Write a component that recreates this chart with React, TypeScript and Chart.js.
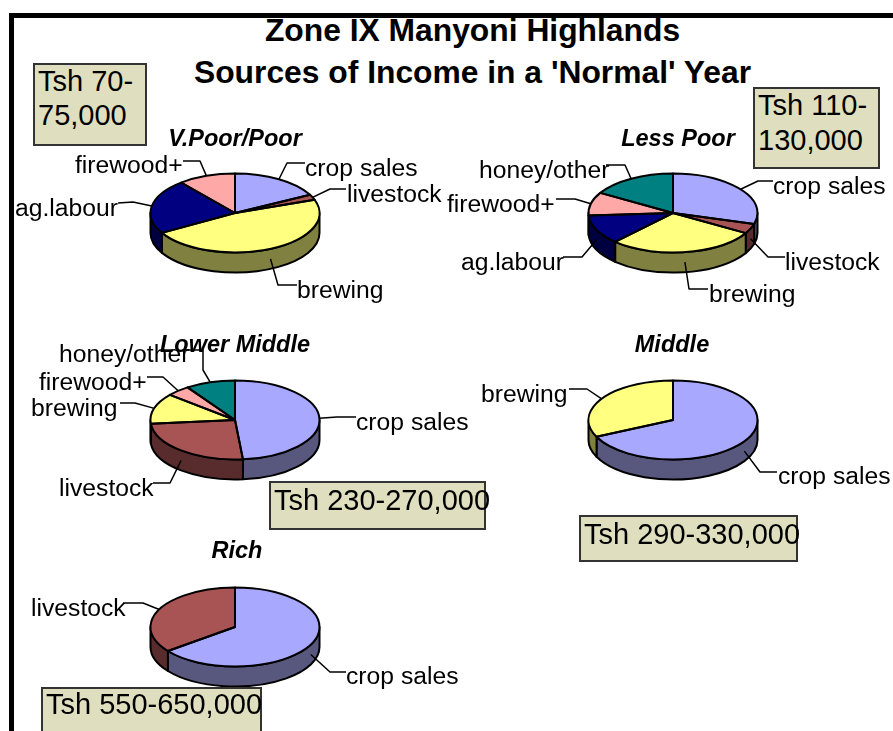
import React, { useEffect, useRef } from "react";
import { Chart, registerables } from "chart.js";

Chart.register(...registerables);

const W = 893;
const H = 731;
const FONT = '"Liberation Sans", Arial, sans-serif';

// ---- data (percent share of income) ----
const vPoorCategories = ["crop sales", "livestock", "brewing", "ag.labour", "firewood+"];
const vPoorValues = [17.4, 2.2, 47, 22.4, 11];
const lessPoorCategories = ["crop sales", "livestock", "brewing", "ag.labour", "firewood+", "honey/other"];
const lessPoorValues = [29.5, 4, 28.5, 12, 9.5, 16.5];
const lowerMiddleCategories = ["crop sales", "livestock", "brewing", "firewood+", "honey/other"];
const lowerMiddleValues = [48.5, 25, 12.5, 4.5, 9.5];
const middleCategories = ["crop sales", "brewing"];
const middleValues = [68, 32];
const richCategories = ["crop sales", "livestock"];
const richValues = [64.6, 35.4];

const mainTitle = ["Zone IX Manyoni Highlands", "Sources of Income in a 'Normal' Year"];

// ---- styles ----
const topColors: Record<string, string> = {
  "crop sales": "#A8A8FF",
  livestock: "#A85454",
  brewing: "#FFFF80",
  "ag.labour": "#000080",
  "firewood+": "#FFA8A8",
  "honey/other": "#008080",
};
const sideColors: Record<string, string> = {
  "crop sales": "#58587F",
  livestock: "#582C2C",
  brewing: "#808040",
  "ag.labour": "#000040",
  "firewood+": "#805454",
  "honey/other": "#004040",
};

// ---- layout ----
type LabelLayout = { x: number; y: number; via: [number, number][] };
type PieConfig = {
  title: string;
  titleX: number;
  titleY: number;
  cx: number;
  cy: number;
  categories: string[];
  values: number[];
  labels: Record<string, LabelLayout>;
};

const pies: PieConfig[] = [
  {
    title: "V.Poor/Poor", titleX: 235, titleY: 146, cx: 235, cy: 213,
    categories: vPoorCategories, values: vPoorValues,
    labels: {
      "crop sales": { x: 305, y: 176, via: [[287, 163], [305, 163]] },
      livestock: { x: 347, y: 202, via: [[330, 189], [346, 189]] },
      brewing: { x: 297, y: 298, via: [[278, 285], [297, 285]] },
      "ag.labour": { x: 15, y: 216, via: [[133, 202], [118, 203]] },
      "firewood+": { x: 75, y: 173, via: [[200, 161], [183, 161]] },
    },
  },
  {
    title: "Less Poor", titleX: 678, titleY: 146, cx: 673, cy: 213,
    categories: lessPoorCategories, values: lessPoorValues,
    labels: {
      "crop sales": { x: 773, y: 194, via: [[758, 181], [773, 181]] },
      livestock: { x: 785, y: 270, via: [[768, 257], [785, 257]] },
      brewing: { x: 709, y: 302, via: [[689, 289], [708, 289]] },
      "ag.labour": { x: 461, y: 270, via: [[582, 257], [563, 257]] },
      "firewood+": { x: 447, y: 212, via: [[575, 199], [556, 199]] },
      "honey/other": { x: 479, y: 178, via: [[625, 165], [606, 165]] },
    },
  },
  {
    title: "Lower Middle", titleX: 235, titleY: 352, cx: 235, cy: 420,
    categories: lowerMiddleCategories, values: lowerMiddleValues,
    labels: {
      "crop sales": { x: 356, y: 430, via: [[337, 417], [356, 417]] },
      livestock: { x: 59, y: 496, via: [[170, 483], [153, 483]] },
      brewing: { x: 31, y: 416, via: [[135, 403], [120, 403]] },
      "firewood+": { x: 39, y: 390, via: [[163, 377], [147, 377]] },
      "honey/other": { x: 59, y: 362, via: [[203, 370], [203, 350], [185, 350]] },
    },
  },
  {
    title: "Middle", titleX: 672, titleY: 352, cx: 673, cy: 420,
    categories: middleCategories, values: middleValues,
    labels: {
      "crop sales": { x: 778, y: 484, via: [[760, 472], [777, 472]] },
      brewing: { x: 481, y: 402, via: [[587, 389], [569, 389]] },
    },
  },
  {
    title: "Rich", titleX: 237, titleY: 558, cx: 235, cy: 627,
    categories: richCategories, values: richValues,
    labels: {
      "crop sales": { x: 346, y: 684, via: [[330, 672], [346, 672]] },
      livestock: { x: 31, y: 616, via: [[143, 603], [123, 603]] },
    },
  },
];

const boxes = [
  { left: 33, top: 63, width: 114, height: 83, textX: 5, lines: ["Tsh 70-", "75,000"], firstBaseline: 91, leading: 34 },
  { left: 753, top: 87, width: 127, height: 82, textX: 5, lines: ["Tsh 110-", "130,000"], firstBaseline: 115, leading: 35 },
  { left: 269, top: 481, width: 217, height: 49, textX: 5, lines: ["Tsh 230-270,000"], firstBaseline: 510, leading: 34 },
  { left: 579, top: 515, width: 219, height: 47, textX: 5, lines: ["Tsh 290-330,000"], firstBaseline: 544, leading: 34 },
  { left: 41, top: 687, width: 221, height: 60, textX: 5, lines: ["Tsh 550-650,000"], firstBaseline: 714, leading: 34 },
];

const RX = 84.5;
const RY = 39.5;
const DEPTH = 20;
const LABEL_PX = 24.7;
const BOX_PX = 29;

const pie3dPlugin = {
  id: "pie3d",
  beforeDatasetsDraw(chart: any) {
    const ctx = chart.ctx;
    const arcs = chart.getDatasetMeta(0).data;
    const { x: cx, y: cy } = arcs[0];
    const cats: string[] = chart.data.labels;
    ctx.save();
    arcs.forEach((arc: any, i: number) => {
      const a = Math.max(arc.startAngle, 0);
      const b = Math.min(arc.endAngle, Math.PI);
      if (b <= a) return;
      ctx.beginPath();
      ctx.ellipse(cx, cy, RX, RY, 0, a, b);
      ctx.ellipse(cx, cy + DEPTH, RX, RY, 0, b, a, true);
      ctx.closePath();
      ctx.fillStyle = sideColors[cats[i]];
      ctx.fill();
      ctx.lineWidth = 2;
      ctx.strokeStyle = "#000";
      ctx.lineJoin = "round";
      ctx.stroke();
    });
    ctx.restore();
    // squash the round pie that Chart.js draws next into the tilted top face
    ctx.save();
    ctx.translate(cx, cy);
    ctx.scale(1, RY / RX);
    ctx.translate(-cx, -cy);
  },
  afterDatasetsDraw(chart: any, _args: any, opts: any) {
    const ctx = chart.ctx;
    ctx.restore();
    const cfg: PieConfig = opts.config;
    const arcs = chart.getDatasetMeta(0).data;
    const { x: cx, y: cy } = arcs[0];
    const cats: string[] = chart.data.labels;

    ctx.save();
    ctx.strokeStyle = "#000";
    ctx.lineWidth = 2;
    ctx.lineJoin = "round";
    arcs.forEach((arc: any) => {
      ctx.beginPath();
      ctx.moveTo(cx, cy);
      ctx.ellipse(cx, cy, RX, RY, 0, arc.startAngle, arc.endAngle);
      ctx.closePath();
      ctx.stroke();
    });

    // pie title
    ctx.fillStyle = "#000";
    ctx.textBaseline = "alphabetic";
    ctx.textAlign = "center";
    ctx.font = `italic bold 23.5px ${FONT}`;
    ctx.fillText(cfg.title, cfg.titleX, cfg.titleY);

    // slice labels and leader lines
    ctx.textAlign = "left";
    ctx.font = `${LABEL_PX}px ${FONT}`;
    ctx.lineWidth = 1.5;
    arcs.forEach((arc: any, i: number) => {
      const layout = cfg.labels[cats[i]];
      if (!layout) return;
      const mid = (arc.startAngle + arc.endAngle) / 2;
      const sy = Math.sin(mid);
      const x0 = cx + RX * Math.cos(mid);
      const y0 = cy + RY * sy + (sy > 0.1 ? DEPTH / 2 : 0);
      ctx.beginPath();
      ctx.moveTo(x0, y0);
      layout.via.forEach(([x, y]) => ctx.lineTo(x, y));
      ctx.stroke();
      ctx.fillText(cats[i], layout.x, layout.y);
    });
    ctx.restore();
  },
};

function PieCanvas({ config }: { config: PieConfig }) {
  const ref = useRef<HTMLCanvasElement>(null);
  useEffect(() => {
    const half = 100;
    const chart = new Chart(ref.current as HTMLCanvasElement, {
      type: "pie",
      data: {
        labels: config.categories,
        datasets: [
          {
            data: config.values,
            backgroundColor: config.categories.map((c) => topColors[c]),
            borderWidth: 0,
            radius: RX,
          } as any,
        ],
      },
      options: {
        responsive: false,
        animation: false,
        events: [],
        layout: {
          padding: {
            left: config.cx - half,
            right: W - config.cx - half,
            top: config.cy - half,
            bottom: H - config.cy - half,
          },
        },
        plugins: {
          legend: { display: false },
          title: { display: false },
          tooltip: { enabled: false },
          pie3d: { config },
        } as any,
      },
      plugins: [pie3dPlugin],
    });
    return () => chart.destroy();
  }, [config]);
  return (
    <canvas
      ref={ref}
      width={W}
      height={H}
      style={{ position: "absolute", left: 0, top: 0, width: W, height: H }}
    />
  );
}

export default function App() {
  const titleLeading = 42;
  return (
    <div
      style={{
        position: "fixed",
        left: 0,
        top: 0,
        width: W,
        height: H,
        overflow: "hidden",
        background: "#fff",
        fontFamily: FONT,
        color: "#000",
      }}
    >
      <div
        style={{
          position: "absolute",
          left: 0,
          width: 945,
          top: 9,
          textAlign: "center",
          fontWeight: "bold",
          fontSize: 31.8,
          lineHeight: `${titleLeading}px`,
          whiteSpace: "nowrap",
        }}
      >
        {mainTitle.map((t) => (
          <div key={t}>{t}</div>
        ))}
      </div>
      {pies.map((p) => (
        <PieCanvas key={p.title} config={p} />
      ))}
      {boxes.map((b) => (
        <div
          key={b.lines[0]}
          style={{
            position: "absolute",
            left: b.left,
            top: b.top,
            width: b.width,
            height: b.height,
            boxSizing: "border-box",
            background: "#DFDFBF",
            border: "2px solid #333",
          }}
        />
      ))}
      {boxes.map((b) =>
        b.lines.map((line, i) => (
          <div
            key={line}
            style={{
              position: "absolute",
              left: b.left + b.textX,
              top: b.firstBaseline + i * b.leading - 27,
              fontSize: BOX_PX,
              lineHeight: "34px",
              whiteSpace: "nowrap",
            }}
          >
            {line}
          </div>
        ))
      )}
      {/* page frame */}
      <div style={{ position: "absolute", left: 9, top: 13, right: 0, height: 5, background: "#000" }} />
      <div style={{ position: "absolute", left: 9, top: 13, bottom: 0, width: 5, background: "#000" }} />
    </div>
  );
}
